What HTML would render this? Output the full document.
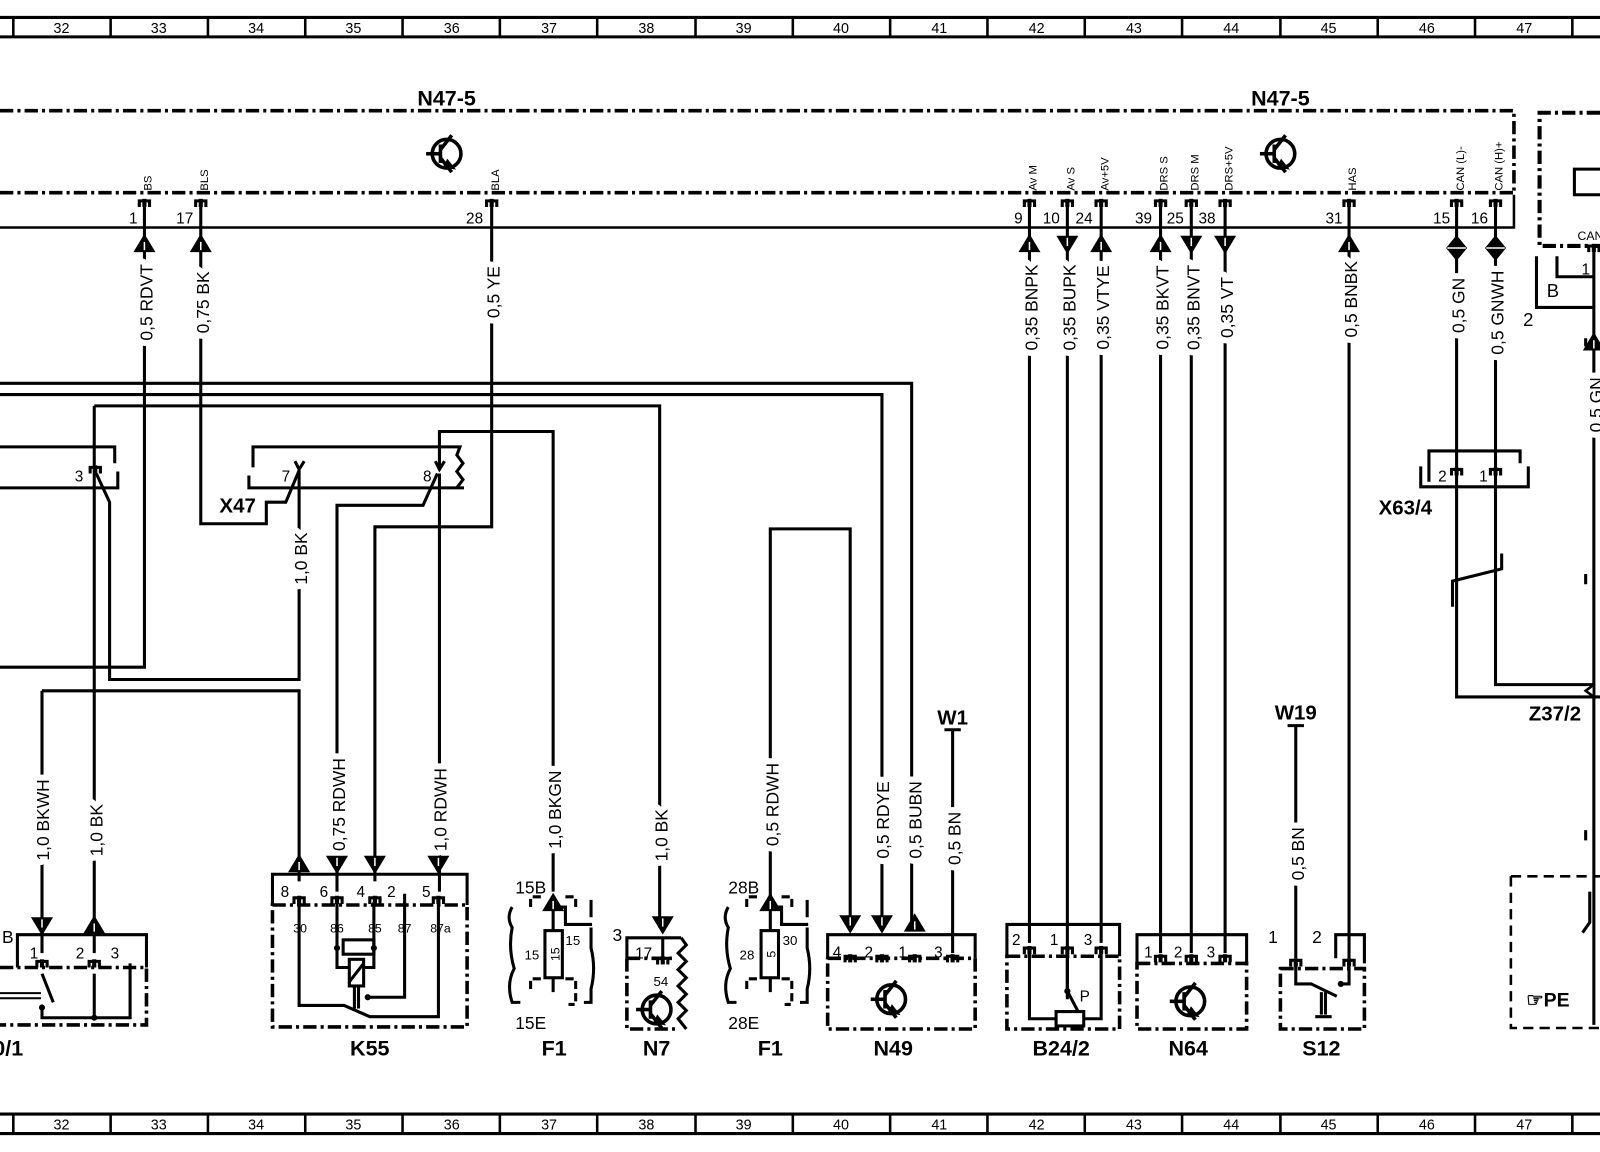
<!DOCTYPE html>
<html><head><meta charset="utf-8"><style>
html,body{margin:0;padding:0;background:#fff;}
svg{display:block;}
text{font-family:"Liberation Sans",sans-serif;fill:#000;}
.w{font-size:17px;stroke:#fff;stroke-width:12px;paint-order:stroke;stroke-linejoin:round;text-anchor:middle;dominant-baseline:central;}
.n{font-size:15px;}
.b{font-weight:bold;font-size:21px;text-anchor:middle;}
.s{font-size:11px;}
.r{font-size:14px;text-anchor:middle;}
</style></head><body>
<svg width="1600" height="1152" viewBox="0 0 1562 1124" preserveAspectRatio="none" xmlns="http://www.w3.org/2000/svg">
<defs>
<g id="au"><polygon points="-9,7 0,-8 9,7" fill="#000" stroke="#000" stroke-width="2"/><line x1="0" y1="-2" x2="0" y2="6" stroke="#fff" stroke-width="1.5"/></g>
<g id="ad"><polygon points="-9,-7 0,8 9,-7" fill="#000" stroke="#000" stroke-width="2"/><line x1="0" y1="2" x2="0" y2="-6" stroke="#fff" stroke-width="1.5"/></g>
<g id="dd"><polygon points="-9,0 0,-11 9,0 0,11" fill="#000" stroke="#000" stroke-width="2"/><line x1="-9" y1="0" x2="9" y2="0" stroke="#fff" stroke-width="1.5"/></g>
<g id="pt"><path d="M-5,6 V0 H5 V6" fill="none" stroke="#000" stroke-width="3"/><rect x="-2" y="-2" width="4" height="8" fill="#000"/></g>
<g id="tr" fill="none" stroke="#000" stroke-width="3.5"><circle r="14"/><line x1="-20" y1="0" x2="-6" y2="0"/><line x1="-6" y1="-9" x2="-6" y2="9"/><line x1="-6" y1="-4" x2="5" y2="-18"/><line x1="-6" y1="4" x2="5" y2="18"/><path d="M1,8 L5,13 L-1,12 Z" fill="#000"/></g>
</defs>

<!-- rulers -->
<g stroke="#000" fill="none">
<line x1="0" y1="17" x2="1562" y2="17" stroke-width="3"/>
<line x1="0" y1="36" x2="1562" y2="36" stroke-width="3"/>
<line x1="0" y1="1087" x2="1562" y2="1087" stroke-width="3"/>
<line x1="0" y1="1106" x2="1562" y2="1106" stroke-width="3"/>
<path stroke-width="2.5" d="M13,17V36M108,17V36M203,17V36M298,17V36M393,17V36M488,17V36M583,17V36M679,17V36M774,17V36M869,17V36M964,17V36M1059,17V36M1154,17V36M1250,17V36M1345,17V36M1440,17V36M1535,17V36
M13,1087V1106M108,1087V1106M203,1087V1106M298,1087V1106M393,1087V1106M488,1087V1106M583,1087V1106M679,1087V1106M774,1087V1106M869,1087V1106M964,1087V1106M1059,1087V1106M1154,1087V1106M1250,1087V1106M1345,1087V1106M1440,1087V1106M1535,1087V1106"/>
</g>
<g class="r">
<text x="60" y="32">32</text><text x="155" y="32">33</text><text x="250" y="32">34</text><text x="345" y="32">35</text><text x="441" y="32">36</text><text x="536" y="32">37</text><text x="631" y="32">38</text><text x="726" y="32">39</text><text x="821" y="32">40</text><text x="917" y="32">41</text><text x="1012" y="32">42</text><text x="1107" y="32">43</text><text x="1202" y="32">44</text><text x="1297" y="32">45</text><text x="1393" y="32">46</text><text x="1488" y="32">47</text>
<text x="60" y="1102">32</text><text x="155" y="1102">33</text><text x="250" y="1102">34</text><text x="345" y="1102">35</text><text x="441" y="1102">36</text><text x="536" y="1102">37</text><text x="631" y="1102">38</text><text x="726" y="1102">39</text><text x="821" y="1102">40</text><text x="917" y="1102">41</text><text x="1012" y="1102">42</text><text x="1107" y="1102">43</text><text x="1202" y="1102">44</text><text x="1297" y="1102">45</text><text x="1393" y="1102">46</text><text x="1488" y="1102">47</text>
</g>

<!-- N47-5 module -->
<text class="b" x="436" y="103">N47-5</text>
<text class="b" x="1250" y="103">N47-5</text>
<g stroke="#000" fill="none" stroke-width="3.5" stroke-dasharray="13 4 3 4">
<path d="M0,108 H1478 V188"/>
<path d="M0,188 H1478"/>
</g>
<path d="M0,222 H1478 V190" stroke="#000" stroke-width="2.5" fill="none"/>
<use href="#tr" x="436" y="150"/>
<use href="#tr" x="1250" y="150"/>

<!-- wires -->
<g stroke="#000" stroke-width="3" fill="none">
<path d="M141,196 V651 H0"/>
<path d="M196,196 V511 H260 V490 H279 L292,459"/>
<path d="M480,196 V514 H366 V860"/>
<path d="M1005,196 V920"/>
<path d="M1042,196 V975"/>
<path d="M1075,196 V920"/>
<path d="M1133,196 V930"/>
<path d="M1163,196 V930"/>
<path d="M1196,196 V930"/>
<path d="M1317,196 V935"/>
<path d="M1422,196 V680 H1562"/>
<path d="M1460,196 V668 H1556"/>
<path d="M0,374 H890 V905"/>
<path d="M0,385 H861 V905"/>
<path d="M92,396 H644 V905"/>
<path d="M92,396 V930"/>
<path d="M94,462 L107,490 V663 H292 V459"/>
<path d="M41,674 H292 V860"/>
<path d="M41,674 V930"/>
<path d="M429,459 V421 H540 V870"/>
<path d="M429,462 V870"/>
<path d="M427,462 L413,493 H329 V870"/>
<path d="M830,905 V516 H752 V875"/>
<path d="M930,712 V930"/>
<path d="M922,712 H938"/>
<path d="M1265,708 V935"/>
<path d="M1257,708 H1273"/>
<path d="M1556,240 V1000"/>
</g>

<!-- top pins -->
<g>
<use href="#pt" x="141" y="196"/><use href="#pt" x="196" y="196"/><use href="#pt" x="480" y="196"/>
<use href="#pt" x="1005" y="196"/><use href="#pt" x="1042" y="196"/><use href="#pt" x="1075" y="196"/>
<use href="#pt" x="1133" y="196"/><use href="#pt" x="1163" y="196"/><use href="#pt" x="1196" y="196"/>
<use href="#pt" x="1317" y="196"/><use href="#pt" x="1422" y="196"/><use href="#pt" x="1460" y="196"/>
</g>
<g class="n">
<text x="126" y="218">1</text><text x="172" y="218">17</text><text x="455" y="218">28</text>
<text x="990" y="218">9</text><text x="1018" y="218">10</text><text x="1050" y="218">24</text>
<text x="1108" y="218">39</text><text x="1139" y="218">25</text><text x="1170" y="218">38</text>
<text x="1294" y="218">31</text><text x="1399" y="218">15</text><text x="1436" y="218">16</text>
</g>
<g class="s">
<text transform="translate(148,186) rotate(-90)">BS</text>
<text transform="translate(203,186) rotate(-90)">BLS</text>
<text transform="translate(487,186) rotate(-90)">BLA</text>
<text transform="translate(1012,186) rotate(-90)">Av M</text>
<text transform="translate(1049,186) rotate(-90)">Av S</text>
<text transform="translate(1082,186) rotate(-90)">Av+5V</text>
<text transform="translate(1140,186) rotate(-90)">DRS S</text>
<text transform="translate(1170,186) rotate(-90)">DRS M</text>
<text transform="translate(1203,186) rotate(-90)">DRS+5V</text>
<text transform="translate(1324,186) rotate(-90)">HAS</text>
<text transform="translate(1429,186) rotate(-90)">CAN (L)-</text>
<text transform="translate(1467,186) rotate(-90)">CAN (H)+</text>
</g>
<use href="#au" x="141" y="238"/><use href="#au" x="196" y="238"/>
<use href="#au" x="1005" y="238"/><use href="#ad" x="1042" y="238"/><use href="#au" x="1075" y="238"/>
<use href="#au" x="1133" y="238"/><use href="#ad" x="1163" y="238"/><use href="#ad" x="1196" y="238"/>
<use href="#au" x="1317" y="238"/><use href="#dd" x="1422" y="242"/><use href="#dd" x="1460" y="242"/>

<!-- wire labels -->
<g class="w">
<text transform="translate(143,295) rotate(-90)">0,5 RDVT</text>
<text transform="translate(198,295) rotate(-90)">0,75 BK</text>
<text transform="translate(482,285) rotate(-90)">0,5 YE</text>
<text transform="translate(1007,300) rotate(-90)">0,35 BNPK</text>
<text transform="translate(1044,300) rotate(-90)">0,35 BUPK</text>
<text transform="translate(1077,300) rotate(-90)">0,35 VTYE</text>
<text transform="translate(1135,300) rotate(-90)">0,35 BKVT</text>
<text transform="translate(1165,300) rotate(-90)">0,35 BNVT</text>
<text transform="translate(1198,300) rotate(-90)">0,35 VT</text>
<text transform="translate(1319,292) rotate(-90)">0,5 BNBK</text>
<text transform="translate(1424,298) rotate(-90)">0,5 GN</text>
<text transform="translate(1462,305) rotate(-90)">0,5 GNWH</text>
<text transform="translate(1558,395) rotate(-90)">0,5 GN</text>
<text transform="translate(294,545) rotate(-90)">1,0 BK</text>
<text transform="translate(42,800) rotate(-90)">1,0 BKWH</text>
<text transform="translate(94,810) rotate(-90)">1,0 BK</text>
<text transform="translate(331,785) rotate(-90)">0,75 RDWH</text>
<text transform="translate(430,790) rotate(-90)">1,0 RDWH</text>
<text transform="translate(542,790) rotate(-90)">1,0 BKGN</text>
<text transform="translate(646,815) rotate(-90)">1,0 BK</text>
<text transform="translate(754,785) rotate(-90)">0,5 RDWH</text>
<text transform="translate(862,800) rotate(-90)">0,5 RDYE</text>
<text transform="translate(894,800) rotate(-90)">0,5 BUBN</text>
<text transform="translate(932,818) rotate(-90)">0,5 BN</text>
<text transform="translate(1267,833) rotate(-90)">0,5 BN</text>
</g>

<!-- left connector (pin 3) -->
<g stroke="#000" stroke-width="3" fill="none">
<path d="M0,436 H112 V452"/>
<path d="M115,460 V476 H0"/>
</g>
<use href="#pt" x="93" y="456"/>
<text class="n" x="73" y="470">3</text>

<!-- X47 -->
<g stroke="#000" stroke-width="3" fill="none">
<path d="M247,456 V436 H449 L446,444 L452,452 L446,460 L452,468 L446,476"/>
<path d="M243,464 V476 H453"/>
<path d="M288,450 L292,458 L297,450"/>
<path d="M425,450 L429,458 L434,450"/>
</g>
<text class="n" x="275" y="470">7</text>
<text class="n" x="413" y="470">8</text>
<text class="b" x="232" y="500" style="font-size:20px">X47</text>

<!-- left switch 0/1 -->
<g stroke="#000" stroke-width="3" fill="none">
<path d="M17,944 V912 H143 V944"/>
<path d="M0,944 H143 V1000 H0" stroke-width="3.5" stroke-dasharray="13 4 3 4"/>
<path d="M127,940 V993 H41 V983"/>
<path d="M92,950 V993"/>
<path d="M41,950 L52,978"/>
<path d="M0,969 H40 M0,974 H40" stroke-width="2"/>
</g>
<circle cx="41" cy="983" r="3" fill="#000"/><circle cx="92" cy="993" r="3" fill="#000"/>
<use href="#pt" x="41" y="938"/><use href="#pt" x="92" y="938"/>
<text class="n" x="2" y="920" style="font-size:17px">B</text>
<text class="n" x="29" y="935">1</text><text class="n" x="74" y="935">2</text><text class="n" x="108" y="935">3</text>
<text class="b" x="8" y="1030">0/1</text>
<use href="#ad" x="41" y="903"/><use href="#au" x="92" y="903"/>

<!-- K55 -->
<g stroke="#000" stroke-width="3" fill="none">
<path d="M266,883 V853 H456 V883"/>
<path d="M266,883 H456 V1002 H266 Z" stroke-width="3.5" stroke-dasharray="13 4 3 4"/>
<path d="M292,880 V981 H336 L361,992 H428 V880"/>
<path d="M395,880 V973 H359"/>
<path d="M329,880 V944 H341 M365,880 V944 H355"/>
<rect x="335" y="917" width="30" height="14"/>
<rect x="341" y="936" width="14" height="26"/>
<path d="M341,958 L355,940"/>
<path d="M346,962 V984 M350,962 V984"/>
</g>
<circle cx="329" cy="925" r="3" fill="#000"/><circle cx="365" cy="925" r="3" fill="#000"/><circle cx="359" cy="973" r="3" fill="#000"/>
<use href="#pt" x="292" y="876"/><use href="#pt" x="329" y="876"/><use href="#pt" x="366" y="876"/><use href="#pt" x="428" y="876"/>
<path d="M395,882 V872" stroke="#000" stroke-width="3"/>
<g class="n"><text x="274" y="875">8</text><text x="312" y="875">6</text><text x="348" y="875">4</text><text x="378" y="875">2</text><text x="412" y="875">5</text></g>
<g style="font-size:12px" text-anchor="middle"><text x="293" y="910">30</text><text x="329" y="910">86</text><text x="366" y="910">85</text><text x="395" y="910">87</text><text x="430" y="910">87a</text></g>
<text class="b" x="361" y="1030">K55</text>
<use href="#au" x="292" y="843"/><use href="#ad" x="329" y="843"/><use href="#ad" x="366" y="843"/><use href="#ad" x="428" y="843"/>

<!-- F1 (15) -->
<g stroke="#000" stroke-width="3" fill="none">
<path d="M518,885 V875 H530 M552,875 H562 V885" stroke-dasharray="8 4"/>
<path d="M518,965 V955 H530 M552,955 H562 V980 H555" stroke-dasharray="8 4"/>
<path d="M500,885 Q494,895 500,905 Q496,925 502,945 Q494,960 500,978 H508"/>
<path d="M577,878 V895 M577,905 V925 Q582,945 577,965 V978 H570"/>
</g>
<g stroke="#000" stroke-width="3" fill="none">
<rect x="532" y="908" width="17" height="46"/>
<path d="M540,878 V908 M540,954 V968"/>
<path d="M540,885 H552 V902 H578"/>
</g>
<use href="#au" x="540" y="881"/>
<text class="n" x="503" y="872" style="font-size:17px">15B</text>
<text class="n" x="503" y="1004" style="font-size:17px">15E</text>
<text class="n" x="512" y="936" style="font-size:13px">15</text>
<text class="n" x="552" y="922" style="font-size:13px">15</text>
<text transform="translate(546,931) rotate(-90)" style="font-size:12px" text-anchor="middle">15</text>
<text class="b" x="541" y="1030">F1</text>

<!-- N7 -->
<g stroke="#000" stroke-width="3" fill="none">
<path d="M612,935 V915 H665"/>
<path d="M612,935 H660 M612,935 V1004 H660" stroke-width="3.5" stroke-dasharray="13 4 3 4"/>
<path d="M665,915 L670,922 L662,930 L670,938 L662,946 L670,954 L662,962 L670,970 L662,978 L670,986 L662,994 L670,1004"/>
<path d="M647,915 V935"/>
</g>
<use href="#pt" x="647" y="935"/>
<use href="#ad" x="647" y="902"/>
<use href="#tr" x="641" y="985"/>
<text class="n" x="598" y="918" style="font-size:17px">3</text>
<text class="n" x="620" y="935">17</text>
<text x="638" y="962" style="font-size:13px">54</text>
<text class="b" x="641" y="1030">N7</text>

<!-- F1 (28) -->
<g stroke="#000" stroke-width="3" fill="none">
<path d="M729,885 V875 H741 M763,875 H773 V885" stroke-dasharray="8 4"/>
<path d="M729,965 V955 H741 M763,955 H773 V980 H766" stroke-dasharray="8 4"/>
<path d="M711,885 Q705,895 711,905 Q707,925 713,945 Q705,960 711,978 H719"/>
<path d="M788,878 V895 M788,905 V925 Q793,945 788,965 V978 H781"/>
</g>
<g stroke="#000" stroke-width="3" fill="none">
<rect x="743" y="908" width="17" height="46"/>
<path d="M752,878 V908 M752,954 V968"/>
<path d="M752,885 H763 V902 H789"/>
</g>
<use href="#au" x="752" y="881"/>
<text class="n" x="711" y="872" style="font-size:17px">28B</text>
<text class="n" x="711" y="1004" style="font-size:17px">28E</text>
<text class="n" x="722" y="936" style="font-size:13px">28</text>
<text class="n" x="764" y="922" style="font-size:13px">30</text>
<text transform="translate(757,931) rotate(-90)" style="font-size:12px" text-anchor="middle">5</text>
<text class="b" x="752" y="1030">F1</text>

<!-- N49 -->
<g stroke="#000" stroke-width="3" fill="none">
<path d="M808,935 V912 H952 V935"/>
<path d="M808,935 H952 V1004 H808 Z" stroke-width="3.5" stroke-dasharray="13 4 3 4"/>
</g>
<use href="#pt" x="830" y="933"/><use href="#pt" x="861" y="933"/><use href="#pt" x="893" y="933"/><use href="#pt" x="930" y="933"/>
<g class="n"><text x="813" y="934">4</text><text x="844" y="934">2</text><text x="877" y="934">1</text><text x="912" y="934">3</text></g>
<use href="#ad" x="830" y="901"/><use href="#ad" x="861" y="901"/><use href="#au" x="893" y="901"/>
<use href="#tr" x="870" y="975"/>
<text class="b" x="872" y="1030">N49</text>
<text class="b" x="930" y="707" style="font-size:20px">W1</text>

<!-- B24/2 -->
<g stroke="#000" stroke-width="3" fill="none">
<path d="M983,933 V902 H1093 V933"/>
<path d="M983,933 H1093 V1004 H983 Z" stroke-width="3.5" stroke-dasharray="13 4 3 4"/>
<path d="M1005,930 V994 H1031 M1058,994 H1075 V930"/>
<rect x="1031" y="987" width="27" height="14"/>
<path d="M1042,930 V967 L1052,986"/>
</g>
<circle cx="1042" cy="967" r="3" fill="#000"/>
<use href="#pt" x="1005" y="925"/><use href="#pt" x="1042" y="925"/><use href="#pt" x="1075" y="925"/>
<g class="n"><text x="988" y="922">2</text><text x="1025" y="922">1</text><text x="1058" y="922">3</text></g>
<text class="n" x="1054" y="977">P</text>
<text class="b" x="1036" y="1030">B24/2</text>

<!-- N64 -->
<g stroke="#000" stroke-width="3" fill="none">
<path d="M1110,940 V912 H1217 V940"/>
<path d="M1110,940 H1217 V1004 H1110 Z" stroke-width="3.5" stroke-dasharray="13 4 3 4"/>
</g>
<use href="#pt" x="1133" y="933"/><use href="#pt" x="1163" y="933"/><use href="#pt" x="1196" y="933"/>
<g class="n"><text x="1117" y="934">1</text><text x="1146" y="934">2</text><text x="1178" y="934">3</text></g>
<use href="#tr" x="1162" y="977"/>
<text class="b" x="1160" y="1030">N64</text>

<!-- S12 -->
<g stroke="#000" stroke-width="3" fill="none">
<path d="M1304,935 V912 H1332 V940"/>
<path d="M1250,945 H1332 V1004 H1250 Z" stroke-width="3.5" stroke-dasharray="13 4 3 4"/>
<path d="M1265,940 V960 H1280 L1305,972 M1317,940 V960 H1309"/>
<path d="M1290,968 V990 M1294,968 V990 M1284,992 H1300"/>
</g>
<circle cx="1309" cy="960" r="3" fill="#000"/>
<use href="#pt" x="1265" y="937"/><use href="#pt" x="1317" y="937"/>
<text class="n" x="1238" y="920" style="font-size:17px">1</text>
<text class="n" x="1281" y="920" style="font-size:17px">2</text>
<text class="b" x="1290" y="1030">S12</text>
<text class="b" x="1265" y="702" style="font-size:20px">W19</text>

<!-- X63/4 and twisted pair -->
<g stroke="#000" stroke-width="3" fill="none">
<path d="M1395,470 V440 H1484 V452"/>
<path d="M1387,455 V475 H1492 V455"/>
<path d="M1418,592 V567 L1466,555 V540"/>
</g>
<use href="#pt" x="1422" y="458"/><use href="#pt" x="1460" y="458"/>
<g class="n"><text x="1404" y="470">2</text><text x="1444" y="470">1</text></g>
<text class="b" x="1372" y="502" style="font-size:20px">X63/4</text>
<text class="b" x="1518" y="703" style="font-size:20px">Z37/2</text>
<polygon points="1556,668 1548,674 1556,680" fill="#fff" stroke="#000" stroke-width="2.5"/>

<!-- right module -->
<g stroke="#000" fill="none">
<path d="M1562,110 H1503 V240 H1562" stroke-width="4" stroke-dasharray="13 4 3 4"/>
<path d="M1562,165 H1537 V190 H1562" stroke-width="3"/>
<path d="M1520,250 V270 H1556 M1500,250 V300 H1556" stroke-width="3"/>
<path d="M1548,330 V338 M1548,560 V570 M1548,810 V820" stroke-width="3"/>
<path d="M1552,870 V900 L1545,910" stroke-width="3"/>
<path d="M1475,855 H1562 M1475,855 V1003 H1562" stroke-width="2.5" stroke-dasharray="10 6"/>
</g>
<use href="#au" x="1556" y="334"/>
<use href="#pt" x="1556" y="240"/>
<text x="1540" y="234" style="font-size:12px">CAN</text>
<text class="n" x="1544" y="268">1</text>
<text class="n" x="1510" y="290" style="font-size:18px">B</text>
<text class="n" x="1487" y="318" style="font-size:18px">2</text>
<text x="1490" y="982" style="font-size:19px;font-weight:bold">☞PE</text>
</svg>
</body></html>
